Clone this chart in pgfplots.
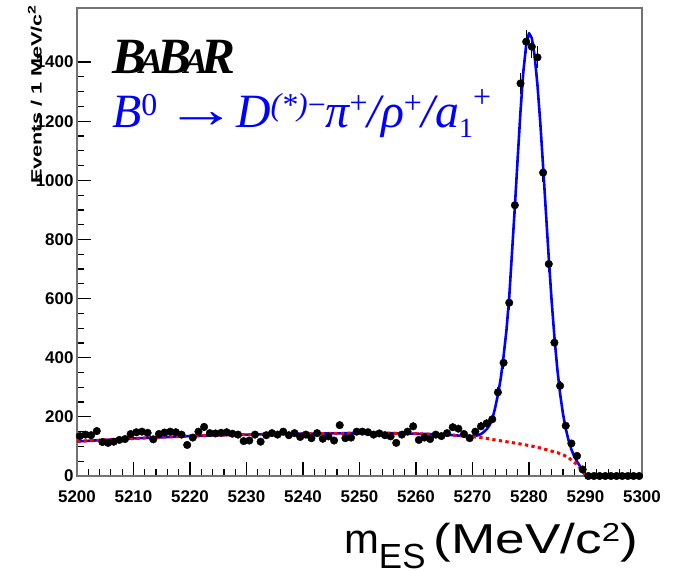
\documentclass[border=0pt]{standalone}
\usepackage{fontspec}
\setmainfont{Liberation Sans}
\newfontfamily\tms{Liberation Serif}
\usepackage{pgfplots}
\usepackage{pgfplotstable}
\pgfplotsset{compat=1.18}
\definecolor{rootblue}{RGB}{0,0,255}
\definecolor{rootred}{RGB}{255,0,0}

\pgfplotstableread{
x y e
5200.5 135 11.6
5201.5 140 11.8
5202.5 138 11.7
5203.5 152 12.3
5204.5 115 10.7
5205.5 112 10.6
5206.5 116 10.8
5207.5 122 11.0
5208.5 125 11.2
5209.5 142 11.9
5210.5 148 12.2
5211.5 150 12.2
5212.5 146 12.1
5213.5 124 11.1
5214.5 142 11.9
5215.5 147 12.1
5216.5 150 12.2
5217.5 148 12.2
5218.5 140 11.8
5219.5 105 10.2
5220.5 130 11.4
5221.5 150 12.2
5222.5 166 12.9
5223.5 145 12.0
5224.5 144 12.0
5225.5 146 12.1
5226.5 148 12.2
5227.5 143 12.0
5228.5 140 11.8
5229.5 118 10.9
5230.5 120 11.0
5231.5 140 11.8
5232.5 116 10.8
5233.5 138 11.7
5234.5 145 12.0
5235.5 140 11.8
5236.5 150 12.2
5237.5 138 11.7
5238.5 145 12.0
5239.5 132 11.5
5240.5 140 11.8
5241.5 128 11.3
5242.5 145 12.0
5243.5 126 11.2
5244.5 134 11.6
5245.5 120 11.0
5246.5 172 13.1
5247.5 128 11.3
5248.5 130 11.4
5249.5 150 12.2
5250.5 150 12.2
5251.5 148 12.2
5252.5 140 11.8
5253.5 144 12.0
5254.5 138 11.7
5255.5 134 11.6
5256.5 112 10.6
5257.5 140 11.8
5258.5 150 12.2
5259.5 168 13.0
5260.5 122 11.0
5261.5 130 11.4
5262.5 125 11.2
5263.5 140 11.8
5264.5 135 11.6
5265.5 145 12.0
5266.5 165 12.8
5267.5 160 12.6
5268.5 142 11.9
5269.5 128 11.3
5270.5 150 12.2
5271.5 168 13.0
5272.5 178 13.3
5273.5 192 13.9
5274.5 283 16.8
5275.5 383 19.6
5276.5 586 24.2
5277.5 916 30.3
5278.5 1328 36.4
5279.5 1469 38.3
5280.5 1452 38.1
5281.5 1416 37.6
5282.5 1026 32.0
5283.5 717 26.8
5284.5 451 21.2
5285.5 305 17.5
5286.5 170 13.0
5287.5 110 10.5
5288.5 68 8.2
5289.5 22 4.7
5290.5 0 0
5291.5 0 0
5292.5 0 0
5293.5 0 0
5294.5 0 0
5295.5 0 0
5296.5 0 0
5297.5 0 0
5298.5 0 0
5299.5 0 0
}\datatab

\pgfplotstableread{
x y
5200 117
5205 122
5210 127
5215 131
5220 135
5225 138
5230 140
5235 142
5240 143
5245 144
5250 145
5255 145
5260 143
5264 141
5266 139
5268 136
5269 135
5270 135
5270.5 136
5271 138
5271.5 142
5272 149
5272.5 158
5273 171
5273.5 192
5274 230
5274.5 275
5275 330
5275.5 405
5276 491
5276.5 605
5277 758
5277.5 912
5278 1076
5278.5 1235
5279 1368
5279.5 1458
5280 1498
5280.5 1481
5281 1421
5281.5 1322
5282 1194
5282.5 1046
5283 890
5283.5 737
5284 594
5284.5 470
5285 364
5285.5 279
5286 212
5286.5 160
5287 121
5287.5 90
5288 66
5288.5 49
5289 34
5289.5 19
5289.8 8
5290 0
5300 0
}\totaltab

\pgfplotstableread{
x y
5200 117
5205 122
5210 127
5215 131
5220 135
5225 138
5230 140
5235 142
5240 143
5245 144
5250 145
5255 145
5260 143
5264 141
5266 139
5268 136
5270 133
5272 129
5274 122
5276 116
5278 110
5280 103
5282 95
5284 84
5285 79
5286 72
5287 62
5288 47
5288.5 38
5289 28
5289.5 17
5289.8 8
5290 0
5300 0
}\bgtab

\begin{document}
\begin{tikzpicture}
\begin{axis}[
  scale only axis, width=565bp, height=468bp,
  xmin=5200, xmax=5300, ymin=0, ymax=1583,
  xtick={5200,5210,...,5300}, ytick={0,200,...,1400},
  minor x tick num=4, minor y tick num=3,
  tick align=inside, xtick pos=bottom, ytick pos=left,
  major tick length=14bp, minor tick length=7bp,
  every tick/.style={black, line width=1.2bp},
  axis line style={black!55, line width=1.5bp},
  ticklabel style={font=\bfseries\fontsize{17}{17}\selectfont},
  /pgf/number format/assume math mode=true,
  /pgf/number format/1000 sep={},
  xticklabel style={yshift=-11bp},
  clip=false,
]
\addplot[only marks, mark=*, mark size=3.8bp, black,
  error bars/.cd, y dir=both, y explicit,
  error bar style={line width=1.3bp, black}, error mark=none]
  table[x=x, y=y, y error=e] {\datatab};
\addplot[rootblue, line width=2.6bp, line join=round] table[x=x,y=y] {\totaltab};
\addplot[rootred, line width=3bp, dash pattern=on 3.3bp off 3.3bp] table[x=x,y=y] {\bgtab};
\end{axis}

\node[anchor=base west, inner sep=0, font=\tms\bfseries\itshape\fontsize{51}{51}\selectfont]
  at ([shift={(35bp,-66bp)}]current axis.north west)
  {B\kern-7bp{\fontsize{36}{36}\selectfont A}\kern-6bp B\kern-7bp{\fontsize{36}{36}\selectfont A}\kern-6bp R};

\node[anchor=base west, inner sep=0, text=rootblue, font=\tms\itshape\fontsize{48}{48}\selectfont]
  at ([shift={(35bp,-120bp)}]current axis.north west)
  {B\raisebox{12bp}{\upshape\fontsize{32}{32}\selectfont 0}\hspace{8bp}\scalebox{1.5}[1.1]{\upshape →}\hspace{-1bp}D\raisebox{12bp}{\fontsize{32}{32}\selectfont (*)\upshape −}π\raisebox{14bp}{\upshape\fontsize{32}{32}\selectfont +}/ρ\raisebox{14bp}{\upshape\fontsize{32}{32}\selectfont +}/a\raisebox{-10bp}{\upshape\fontsize{28}{28}\selectfont 1}\raisebox{20bp}{\upshape\fontsize{32}{32}\selectfont +}};

\node[anchor=base east, inner sep=0, font=\fontsize{42}{42}\selectfont]
  at ([shift={(-4bp,-77bp)}]current axis.south east)
  {m\raisebox{-15bp}{\fontsize{35}{35}\selectfont ES}\hspace{8bp}\scalebox{1.27}[1]{(MeV/c\raisebox{12bp}{\fontsize{26}{26}\selectfont 2})}};

\node[rotate=90, anchor=east, inner sep=0, font=\bfseries\fontsize{15}{15}\selectfont]
  at ([shift={(-42bp,3bp)}]current axis.north west)
  {\scalebox{1.45}[1]{Events / 1 MeV/c\raisebox{6bp}{\fontsize{11}{11}\selectfont 2}}};

\pgfresetboundingbox
\path[use as bounding box] ([shift={(-77bp,-95bp)}]current axis.south west) rectangle ([shift={(35bp,8bp)}]current axis.north east);
\end{tikzpicture}
\end{document}
